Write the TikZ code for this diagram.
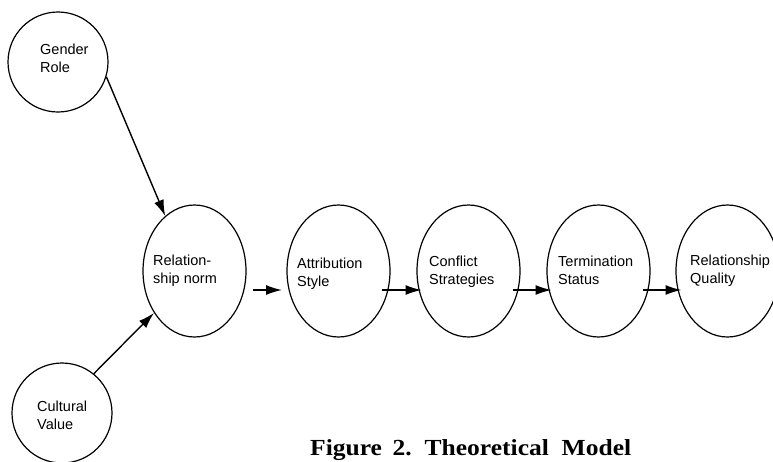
\documentclass[tikz,border=0pt]{standalone}
\usepackage{fontspec}
\setmainfont{Liberation Serif}
\setsansfont{Liberation Sans}
\usetikzlibrary{shapes.geometric,arrows.meta}
\begin{document}
\begin{tikzpicture}[x=1pt,y=-1pt,
  circ/.style={draw,circle,line width=1.2pt,minimum size=100pt,inner sep=0pt},
  ell/.style={draw,ellipse,line width=1.2pt,minimum width=103pt,minimum height=132pt,inner sep=0pt},
  lbl/.style={anchor=north west,inner sep=0pt,align=left,font=\sffamily\fontsize{14.5}{18}\selectfont},
  arr/.style={line width=1.4pt,-{Latex[length=16pt,width=10pt]}}]
\useasboundingbox (0,0) rectangle (773,461);
% circles
\node[circ] (gr) at (58,62) {};
\node[circ] (cv) at (62,413) {};
% ellipses
\node[ell] (rn) at (194.5,271) {};
\node[ell] (att) at (338.5,271) {};
\node[ell] (con) at (468.5,271) {};
\node[ell] (ter) at (598.5,271) {};
\node[ell] (qua) at (727.5,271) {};
% labels
\node[lbl] (grt) at (40,44) {Gender\\Role};
\node[lbl] (cvt) at (37,401) {Cultural\\Value};
\node[lbl] (rnt) at (153,255) {Relation-\\ship norm};
\node[lbl] (attt) at (297,258) {Attribution\\Style};
\node[lbl] (cont) at (429,256) {Conflict\\Strategies};
\node[lbl] (tert) at (558,256) {Termination\\Status};
\node[lbl] (quat) at (690,255) {Relationship\\Quality};
% arrows
\draw[arr] (gr.-17.7) -- (rn.118.6);
\draw[arr] (cv.51.3) -- (rn.-134);
\draw[arr] ([shift={(58.5,19)}]rn.center) -- ([shift={(-56.5,19)}]att.center);
\draw[arr] ([shift={(43.5,19)}]att.center) -- ([shift={(-47,19)}]con.center);
\draw[arr] ([shift={(44.5,19)}]con.center) -- ([shift={(-47,19)}]ter.center);
\draw[arr] ([shift={(44.5,19)}]ter.center) -- ([shift={(-46,19)}]qua.center);
% caption
\node[anchor=base west,inner sep=0pt,font=\bfseries\fontsize{23}{26}\selectfont] (cap) at (310,455) {\scalebox{1.11}[1]{Figure\, 2.\, Theoretical\enspace Model}};
\end{tikzpicture}
\end{document}
